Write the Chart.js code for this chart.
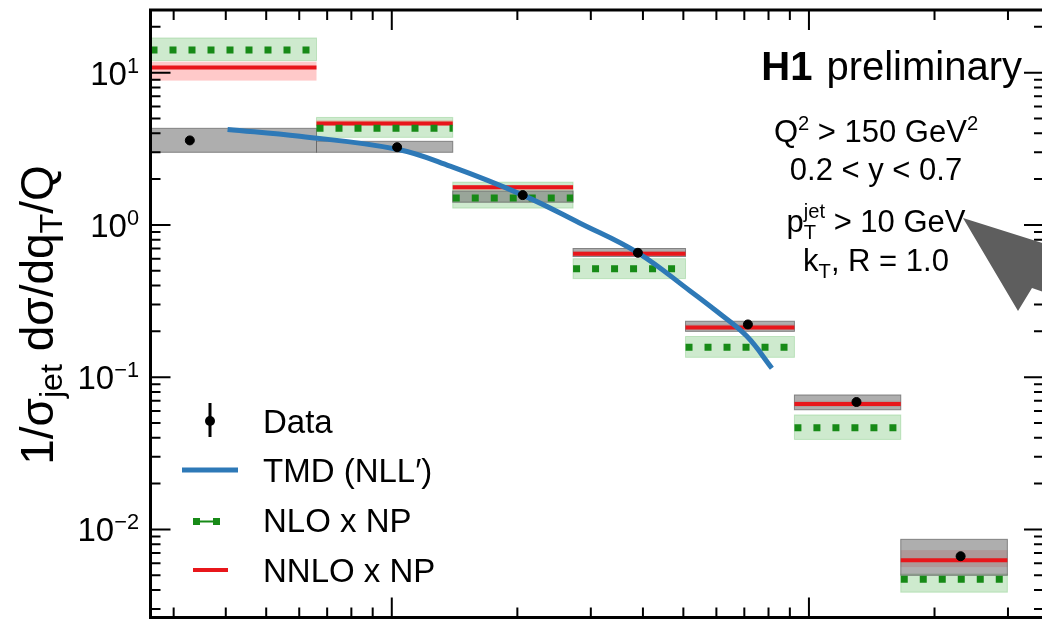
<!DOCTYPE html>
<html>
<head>
<meta charset="utf-8">
<script src="https://cdn.jsdelivr.net/npm/chart.js@4/dist/chart.umd.min.js"></script>
<style>
  html, body { margin: 0; padding: 0; background: #fff; overflow: hidden; }
  #wrap { width: 1060px; height: 623px; }
</style>
</head>
<body>
<div id="wrap"><canvas id="myChart" width="1060" height="623"></canvas></div>
<script>
// bins in q_T/Q (first bin is cut by the axis)
const binLo = [0.0264, 0.066, 0.140, 0.272, 0.506, 0.923, 1.66];
const binHi = [0.066, 0.140, 0.272, 0.506, 0.923, 1.66, 2.99];

// H1 data + total uncertainty band
const dataX = [0.0328, 0.103, 0.206, 0.389, 0.714, 1.30, 2.31];
const dataY = [3.59, 3.24, 1.57, 0.656, 0.222, 0.0687, 0.00667];
const dataUp = [4.31, 3.54, 1.67, 0.70, 0.233, 0.0764, 0.00861];
const dataDn = [3.00, 3.00, 1.41, 0.62, 0.200, 0.0611, 0.00500];

// NLO x NP
const nloY = [14.1, 4.31, 1.50, 0.515, 0.157, 0.0465, 0.00471];
const nloUp = [16.9, 5.08, 1.91, 0.600, 0.185, 0.0565, 0.0051];
const nloDn = [12.0, 3.76, 1.29, 0.444, 0.135, 0.0390, 0.00387];

// NNLO x NP
const nnloY = [10.8, 4.64, 1.77, 0.646, 0.212, 0.0667, 0.00627];
const nnloUp = [11.8, 4.86, 1.83, 0.675, 0.222, 0.0700, 0.00731];
const nnloDn = [8.87, 4.50, 1.69, 0.625, 0.205, 0.0640, 0.00566];

// TMD (NLL') curve
const tmdX = [0.0404, 0.0602, 0.103, 0.138, 0.206, 0.282, 0.389, 0.518, 0.602, 0.710, 0.815];
const tmdY = [4.24, 3.82, 3.14, 2.43, 1.57, 1.03, 0.656, 0.370, 0.270, 0.1854, 0.1146];

const yLabelExp = [1, 0, -1, -2];
const legendLabels = ["Data", "TMD (NLL\u2032)", "NLO x NP", "NNLO x NP"];

const xMin = 0.0264, xMax = 3.66;
const yMin = 0.00264, yMax = 25.8;

const FONT = '"Liberation Sans", Arial, Helvetica, sans-serif';
const cBlue = "#2e79b7", cGreen = "#178a17", cRed = "#e8161b";

function steps(vals) {
  const pts = [];
  vals.forEach((v, i) => {
    pts.push({ x: binLo[i], y: v }, { x: binHi[i], y: v }, { x: binHi[i], y: null });
  });
  return pts;
}

function setFont(ctx, size, bold) {
  ctx.font = (bold ? "bold " : "") + size + "px " + FONT;
}

// draws text with sub/superscripts; parts: {t, s (scale), dy, b (bold), stack}
function drawRich(ctx, parts, x, y, size, align) {
  let w = 0, prevStart = 0, prevW = 0;
  const pos = [];
  parts.forEach(p => {
    setFont(ctx, size * (p.s || 1), p.b);
    const pw = ctx.measureText(p.t).width;
    if (p.stack) {
      pos.push(prevStart);
      w += Math.max(0, pw - prevW);
      prevW = Math.max(prevW, pw);
    } else {
      pos.push(w); prevStart = w; prevW = pw; w += pw;
    }
  });
  const x0 = align === "center" ? x - w / 2 : align === "right" ? x - w : x;
  ctx.textAlign = "left";
  ctx.textBaseline = "alphabetic";
  parts.forEach((p, i) => {
    setFont(ctx, size * (p.s || 1), p.b);
    ctx.fillText(p.t, x0 + pos[i], y + (p.dy || 0));
  });
  return w;
}

const bandsPlugin = {
  id: "bands",
  beforeDatasetsDraw(chart) {
    const { ctx, chartArea: a, scales: { x, y } } = chart;
    ctx.save();
    ctx.beginPath();
    ctx.rect(a.left, a.top, a.right - a.left, a.bottom - a.top);
    ctx.clip();
    const box = (i, up, dn, fill, stroke) => {
      const x1 = x.getPixelForValue(binLo[i]), x2 = x.getPixelForValue(binHi[i]);
      const y1 = y.getPixelForValue(up[i]), y2 = y.getPixelForValue(dn[i]);
      ctx.fillStyle = fill;
      ctx.fillRect(x1, y1, x2 - x1, y2 - y1);
      if (stroke) {
        ctx.strokeStyle = stroke;
        ctx.lineWidth = 1;
        ctx.strokeRect(x1, y1, x2 - x1, y2 - y1);
      }
    };
    for (let i = 0; i < binLo.length; i++) box(i, nloUp, nloDn, "rgba(60,170,60,0.25)", "rgba(60,170,60,0.25)");
    for (let i = 0; i < binLo.length; i++) box(i, nnloUp, nnloDn, "rgba(255,60,60,0.28)");
    for (let i = 0; i < binLo.length; i++) box(i, dataUp, dataDn, "rgba(115,115,115,0.58)", "rgba(95,95,95,0.7)");
    ctx.restore();
  },
  afterDraw(chart) {
    const { ctx, chartArea: a, scales: { x, y } } = chart;
    ctx.save();
    ctx.fillStyle = "#000";
    ctx.strokeStyle = "#000";

    // ticks pointing inward on all four sides
    ctx.lineWidth = 2;
    ctx.beginPath();
    for (let e = -4; e <= 2; e++) {
      for (let k = 1; k <= 9; k++) {
        const v = k * Math.pow(10, e);
        const len = k === 1 ? 20 : 10;
        if (v >= yMin && v <= yMax) {
          const py = y.getPixelForValue(v);
          ctx.moveTo(a.left, py); ctx.lineTo(a.left + len, py);
          ctx.moveTo(a.right, py); ctx.lineTo(a.right - len, py);
        }
        if (v >= xMin && v <= xMax) {
          const px = x.getPixelForValue(v);
          ctx.moveTo(px, a.top); ctx.lineTo(px, a.top + len);
          ctx.moveTo(px, a.bottom); ctx.lineTo(px, a.bottom - len);
        }
      }
    }
    ctx.stroke();

    // frame
    ctx.lineWidth = 3;
    ctx.strokeRect(a.left, a.top, a.right - a.left, a.bottom - a.top);

    // y tick labels
    yLabelExp.forEach(e => {
      const py = y.getPixelForValue(Math.pow(10, e));
      const ex = e < 0 ? "\u2212" + (-e) : String(e);
      drawRich(ctx, [{ t: "10" }, { t: ex, s: 0.66, dy: -12 }], 139, py + 12, 33, "right");
    });

    // y title
    ctx.save();
    ctx.translate(53, 315);
    ctx.rotate(-Math.PI / 2);
    drawRich(ctx, [
      { t: "1/\u03c3" }, { t: "jet", s: 0.7, dy: 9 },
      { t: " d\u03c3/dq" }, { t: "T", s: 0.7, dy: 9 }, { t: "/Q" }
    ], 0, 0, 46, "center");
    ctx.restore();

    // H1 preliminary
    setFont(ctx, 40, false);
    const wPre = ctx.measureText("preliminary").width;
    ctx.textAlign = "right";
    ctx.fillText("preliminary", 1022, 80);
    setFont(ctx, 40, true);
    ctx.fillText("H1", 1022 - wPre - 14, 80);

    // cuts
    const cx = 876, fs = 31;
    drawRich(ctx, [{ t: "Q" }, { t: "2", s: 0.65, dy: -12 }, { t: " > 150 GeV" }, { t: "2", s: 0.65, dy: -12 }], cx, 142, fs, "center");
    drawRich(ctx, [{ t: "0.2 < y < 0.7" }], cx, 180, fs, "center");
    drawRich(ctx, [{ t: "p" }, { t: "T", s: 0.65, dy: 7 }, { t: "jet", s: 0.65, dy: -14, stack: true }, { t: " > 10 GeV" }], cx, 232, fs, "center");
    drawRich(ctx, [{ t: "k" }, { t: "T", s: 0.65, dy: 7 }, { t: ", R = 1.0" }], cx, 271, fs, "center");

    // legend
    const lx = 263;
    setFont(ctx, 33, false);
    ctx.textAlign = "left";
    ctx.fillText(legendLabels[0], lx, 433);
    ctx.fillText(legendLabels[1], lx, 482);
    ctx.fillText(legendLabels[2], lx, 532);
    ctx.fillText(legendLabels[3], lx, 582);
    // data symbol
    ctx.lineWidth = 3;
    ctx.beginPath(); ctx.moveTo(210, 403); ctx.lineTo(210, 437); ctx.stroke();
    ctx.beginPath(); ctx.arc(210, 421, 5, 0, Math.PI * 2); ctx.fill();
    // tmd
    ctx.strokeStyle = cBlue; ctx.lineWidth = 5;
    ctx.beginPath(); ctx.moveTo(182, 470); ctx.lineTo(238, 470); ctx.stroke();
    // nlo
    ctx.fillStyle = cGreen; ctx.strokeStyle = cGreen; ctx.lineWidth = 2;
    ctx.fillRect(193, 518, 7, 7); ctx.fillRect(213, 518, 7, 7);
    ctx.beginPath(); ctx.moveTo(200, 521.5); ctx.lineTo(213, 521.5); ctx.stroke();
    // nnlo
    ctx.strokeStyle = cRed; ctx.lineWidth = 4;
    ctx.beginPath(); ctx.moveTo(193, 570); ctx.lineTo(228, 570); ctx.stroke();

    // grey slide arrow overlay
    ctx.fillStyle = "#5e5e5e";
    ctx.beginPath();
    ctx.moveTo(963, 218);
    ctx.lineTo(1055, 247);
    ctx.lineTo(1055, 296);
    ctx.lineTo(1032, 288);
    ctx.lineTo(1018, 311);
    ctx.closePath();
    ctx.fill();
    ctx.restore();
  }
};

new Chart(document.getElementById("myChart"), {
  type: "line",
  data: {
    datasets: [
      {
        label: legendLabels[0],
        type: "scatter",
        data: dataX.map((v, i) => ({ x: v, y: dataY[i] })),
        pointRadius: 4.5,
        backgroundColor: "#000",
        borderColor: "#000",
        showLine: false
      },
      {
        label: legendLabels[1],
        data: tmdX.map((v, i) => ({ x: v, y: tmdY[i] })),
        borderColor: cBlue,
        borderWidth: 5,
        pointRadius: 0,
        tension: 0.4,
        fill: false
      },
      {
        label: legendLabels[2],
        data: steps(nloY),
        borderColor: cGreen,
        borderWidth: 7,
        borderDash: [7, 12],
        borderCapStyle: "butt",
        pointRadius: 0,
        spanGaps: false
      },
      {
        label: legendLabels[3],
        data: steps(nnloY),
        borderColor: cRed,
        borderWidth: 4,
        pointRadius: 0,
        spanGaps: false
      }
    ]
  },
  options: {
    responsive: false,
    animation: false,
    devicePixelRatio: 1,
    layout: { padding: { left: 150.5, right: 16, top: 10, bottom: 2.5 } },
    scales: {
      x: { type: "logarithmic", min: xMin, max: xMax, display: false },
      y: { type: "logarithmic", min: yMin, max: yMax, display: false }
    },
    plugins: {
      legend: { display: false },
      tooltip: { enabled: false }
    }
  },
  plugins: [bandsPlugin]
});
</script>
</body>
</html>
